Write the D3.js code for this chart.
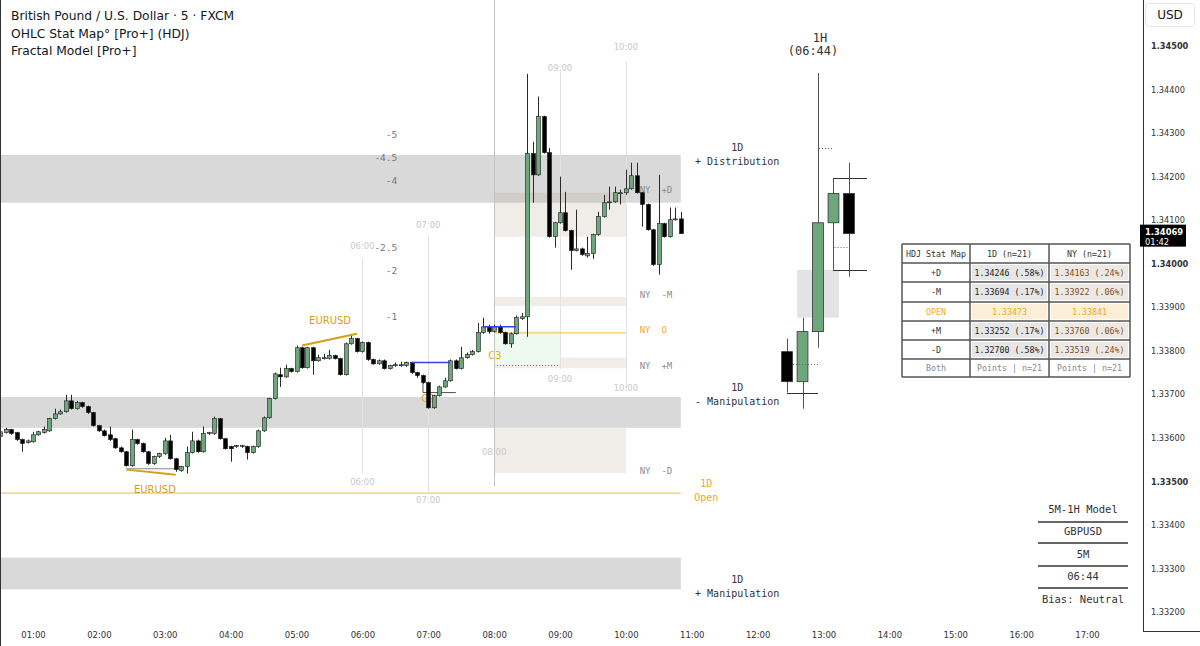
<!DOCTYPE html>
<html><head><meta charset="utf-8">
<script src="https://cdn.jsdelivr.net/npm/d3@7"></script>
<style>body{margin:0;background:#fff;} svg{display:block;}</style>
</head><body><svg id="c" width="1200" height="646"></svg>
<script>
// ---------- DATA ----------
const startHour = 0.5;   // first 5m bar at 00:30
const barMinutes = 5;
const opens = [
1.33603,1.33612,1.33619,1.33612,1.33596,1.33589,1.33591,1.33607,1.33612,1.33616,
1.33644,1.33655,1.33660,1.33685,1.33667,1.33681,1.33672,1.33658,1.33628,1.33616,
1.33607,1.33598,1.33577,1.33568,1.33536,1.33596,1.33587,1.33568,1.33541,1.33557,
1.33564,1.33593,1.33552,1.33525,1.33534,1.33566,1.33593,1.33568,1.33610,1.33610,
1.33644,1.33598,1.33580,1.33580,1.33580,1.33580,1.33566,1.33580,1.33616,1.33646,
1.33690,1.33745,1.33740,1.33759,1.33752,1.33807,1.33761,1.33807,1.33777,1.33782,
1.33782,1.33789,1.33782,1.33745,1.33816,1.33828,1.33798,1.33819,1.33780,1.33770,
1.33777,1.33759,1.33766,1.33766,1.33766,1.33773,1.33750,1.33743,1.33727,1.33669,
1.33697,1.33717,1.33731,1.33777,1.33759,1.33784,1.33791,1.33798,1.33842,1.33855,
1.33844,1.33855,1.33842,1.33816,1.33839,1.33874,1.33878,1.34253,1.34204,1.34338,
1.34255,1.34062,1.34094,1.34117,1.34076,1.34030,1.34034,1.34018,1.34023,1.34067,
1.34108,1.34140,1.34142,1.34161,1.34163,1.34172,1.34202,1.34163,1.34136,1.34078,
1.33998,1.34092,1.34062,1.34101,1.34103];
const highs = [
1.33619,1.33623,1.33621,1.33614,1.33598,1.33596,1.33614,1.33616,1.33626,1.33646,
1.33667,1.33665,1.33699,1.33699,1.33685,1.33683,1.33674,1.33660,1.33630,1.33619,
1.33626,1.33600,1.33580,1.33570,1.33619,1.33598,1.33589,1.33570,1.33559,1.33566,
1.33600,1.33607,1.33554,1.33536,1.33580,1.33614,1.33596,1.33626,1.33614,1.33649,
1.33646,1.33600,1.33582,1.33584,1.33584,1.33582,1.33582,1.33619,1.33649,1.33692,
1.33750,1.33761,1.33768,1.33761,1.33812,1.33809,1.33809,1.33809,1.33791,1.33793,
1.33802,1.33791,1.33784,1.33819,1.33837,1.33830,1.33821,1.33821,1.33782,1.33780,
1.33780,1.33768,1.33773,1.33775,1.33775,1.33775,1.33752,1.33745,1.33729,1.33699,
1.33720,1.33738,1.33780,1.33780,1.33809,1.33796,1.33802,1.33864,1.33876,1.33860,
1.33860,1.33860,1.33844,1.33842,1.33881,1.33887,1.34436,1.34280,1.34384,1.34340,
1.34266,1.34096,1.34200,1.34165,1.34078,1.34124,1.34037,1.34062,1.34069,1.34119,
1.34158,1.34177,1.34177,1.34170,1.34216,1.34232,1.34232,1.34165,1.34138,1.34080,
1.34204,1.34094,1.34129,1.34129,1.34119];
const lows = [
1.33596,1.33610,1.33607,1.33593,1.33568,1.33587,1.33589,1.33605,1.33610,1.33614,
1.33642,1.33653,1.33658,1.33665,1.33665,1.33669,1.33655,1.33626,1.33614,1.33603,
1.33593,1.33575,1.33566,1.33534,1.33534,1.33584,1.33566,1.33538,1.33538,1.33554,
1.33561,1.33550,1.33522,1.33522,1.33518,1.33564,1.33566,1.33566,1.33607,1.33607,
1.33596,1.33573,1.33545,1.33577,1.33577,1.33550,1.33564,1.33577,1.33614,1.33644,
1.33688,1.33717,1.33738,1.33750,1.33750,1.33759,1.33759,1.33745,1.33775,1.33780,
1.33780,1.33780,1.33743,1.33743,1.33814,1.33796,1.33796,1.33777,1.33768,1.33768,
1.33757,1.33757,1.33763,1.33763,1.33763,1.33747,1.33738,1.33724,1.33667,1.33667,
1.33695,1.33715,1.33729,1.33757,1.33757,1.33782,1.33789,1.33796,1.33839,1.33839,
1.33842,1.33839,1.33814,1.33807,1.33837,1.33871,1.33832,1.34140,1.34202,1.34253,
1.34060,1.34037,1.34092,1.34074,1.33986,1.34028,1.34018,1.34014,1.34011,1.34064,
1.34106,1.34124,1.34140,1.34136,1.34158,1.34170,1.34161,1.34085,1.34076,1.33995,
1.33975,1.34060,1.34060,1.34099,1.34069];
const closes = [
1.33614,1.33619,1.33610,1.33596,1.33587,1.33593,1.33607,1.33614,1.33619,1.33644,
1.33655,1.33660,1.33685,1.33667,1.33681,1.33672,1.33658,1.33628,1.33616,1.33605,
1.33596,1.33577,1.33568,1.33536,1.33596,1.33587,1.33568,1.33541,1.33557,1.33564,
1.33593,1.33552,1.33527,1.33534,1.33566,1.33593,1.33568,1.33610,1.33612,1.33644,
1.33598,1.33575,1.33575,1.33582,1.33582,1.33566,1.33580,1.33616,1.33646,1.33690,
1.33747,1.33740,1.33759,1.33752,1.33807,1.33761,1.33807,1.33777,1.33784,1.33784,
1.33789,1.33782,1.33745,1.33816,1.33828,1.33798,1.33819,1.33780,1.33770,1.33777,
1.33759,1.33766,1.33768,1.33768,1.33773,1.33750,1.33743,1.33727,1.33669,1.33697,
1.33717,1.33731,1.33777,1.33759,1.33784,1.33791,1.33798,1.33842,1.33855,1.33844,
1.33855,1.33842,1.33816,1.33839,1.33876,1.33878,1.34253,1.34204,1.34338,1.34255,
1.34062,1.34094,1.34117,1.34076,1.34030,1.34034,1.34021,1.34023,1.34067,1.34108,
1.34140,1.34142,1.34163,1.34163,1.34172,1.34202,1.34163,1.34136,1.34078,1.33998,
1.34092,1.34062,1.34101,1.34103,1.34069];

// 1H candles (06:00 .. 10:00)
const h1Hours = [6,7,8,9,10];
const h1Open  = [1.33798,1.33729,1.33844,1.34094,1.34161];
const h1High  = [1.33828,1.33876,1.34438,1.34197,1.34232];
const h1Low   = [1.33704,1.33667,1.33807,1.33986,1.33970];
const h1Close = [1.33729,1.33844,1.34094,1.34161,1.34069];

const priceTicks = [1.345,1.344,1.343,1.342,1.341,1.340,1.339,1.338,1.337,1.336,1.335,1.334,1.333,1.332];
const majorTicks = [1.345,1.340,1.335];
const hourTicks = [1,2,3,4,5,6,7,8,9,10,11,12,13,14,15,16,17];

// 1D zones [top, bottom]
const dayZones = [[1.34250,1.34140],[1.33694,1.33623],[1.33325,1.33252]];
const dayOpen = 1.33473;
const dayLabels = [
  {l1:"1D", l2:"+ Distribution", p:1.34246},
  {l1:"1D", l2:"- Manipulation", p:1.33694},
  {l1:"1D", l2:"+ Manipulation", p:1.33252}];
// NY zones [top,bottom] between 08:00 and 10:00
const nyZones = [[1.34163,1.34062],[1.33924,1.33903],[1.33784,1.33760],[1.33623,1.33519]];
const nyOpen = 1.33841;
const nyLabels = [["NY +D",1.34163],["NY -M",1.33922],["NY O",1.33841],["NY +M",1.33760],["NY -D",1.33519]];
// standard deviation projections
const sdNames = ["-5","-4.5","-4","-2.5","-2","-1"];
const sdPrices = [1.34294,1.34241,1.34188,1.34034,1.33982,1.33876];
// vertical session markers [hour, top price, bottom price]
const vLines = [[6,1.34012,1.33517],[7,1.34065,1.33476],[8,1.34607,1.33488],[9,1.34447,1.33758],[10,1.34465,1.33712]];
const vLabels = [[10,1.34497],[9,1.34448],[7,1.34087],[6,1.34039],[9,1.33734],[10,1.33713],[8,1.33566],[6,1.33497],[7,1.33456]];
// EURUSD SMT lines [bar index from, price from, bar index to, price to]
const smtLines = [[55,1.33812,65,1.33839],[23,1.33527,32,1.33515]];
const smtText = [[5.51,1.33869],[2.85,1.33481]];
// blue reference lines [bar from, bar to, price]
const blueLines = [[75,82,1.33773],[88,94,1.33855]];
// C3 box
const c3 = {h0:8, h1:9, top:1.33846, bot:1.33768};

// table
const tblHead = ["HDJ Stat Map","1D (n=21)","NY (n=21)"];
const tblRows = ["+D","-M","OPEN","+M","-D"];
const tblDay = ["1.34246 (.58%)","1.33694 (.17%)","1.33473","1.33252 (.17%)","1.32700 (.58%)"];
const tblNY  = ["1.34163 (.24%)","1.33922 (.06%)","1.33841","1.33760 (.06%)","1.33519 (.24%)"];
const tblFoot = ["Both","Points | n=21","Points | n=21"];
const modelBox = ["5M-1H Model","GBPUSD","5M","06:44","Bias: Neutral"];

// ---------- CHART ----------
const svg = d3.select("#c");
const x = d3.scaleLinear().domain([1,17]).range([33,1087]);
const y = d3.scaleLinear().domain([1.332,1.345]).range([612,46]);
const barHour = i => startHour + i*barMinutes/60;
const lastHour = barHour(opens.length-1);
const firstHour = barHour(0);
const SANS = "DejaVu Sans", MONO = "DejaVu Sans Mono";

const g = svg.append("g");

// 1D zones
g.selectAll("rect.dz").data(dayZones).join("rect")
  .attr("x", x(firstHour)-1).attr("width", x(lastHour)-x(firstHour)+1)
  .attr("y", d=>y(d[0])).attr("height", d=>y(d[1])-y(d[0])).attr("fill","#d9d9d9");
// NY zones
g.selectAll("rect.nz").data(nyZones).join("rect")
  .attr("x", x(8)).attr("width", x(10)-x(8))
  .attr("y", d=>y(d[0])).attr("height", d=>y(d[1])-y(d[0]))
  .attr("fill","rgb(180,160,140)").attr("fill-opacity",0.2);
// C3 box
g.append("rect").attr("x",x(c3.h0)).attr("width",x(c3.h1)-x(c3.h0))
  .attr("y",y(c3.top)).attr("height",y(c3.bot)-y(c3.top)).attr("fill","#eefaf0");
g.append("line").attr("x1",x(c3.h0)).attr("x2",x(c3.h1)).attr("y1",Math.round(y(c3.bot))+0.5).attr("y2",Math.round(y(c3.bot))+0.5)
  .attr("stroke","#777").attr("stroke-dasharray","1,2");

// vertical lines
g.selectAll("line.v").data(vLines).join("line")
  .attr("x1",d=>Math.round(x(d[0]))+0.5).attr("x2",d=>Math.round(x(d[0]))+0.5)
  .attr("y1",d=>y(d[1])).attr("y2",d=>y(d[2]))
  .attr("stroke",d=>d[0]===8?"#c4c4c4":"#e2e2e2").attr("stroke-width",1);
g.selectAll("text.vl").data(vLabels).join("text")
  .attr("x",d=>x(d[0])).attr("y",d=>y(d[1])).attr("text-anchor","middle").attr("dominant-baseline","middle")
  .attr("font-family",SANS).attr("font-size",8.5).attr("fill","#c8c8c8").text(d=>String(d[0]).padStart(2,"0")+":00");

// 1D open line and NY open line
g.append("line").attr("x1",x(firstHour)-1).attr("x2",x(lastHour)).attr("y1",y(dayOpen)).attr("y2",y(dayOpen))
  .attr("stroke","#ffc46b").attr("stroke-width",1.2);
g.append("line").attr("x1",x(8)).attr("x2",x(10)).attr("y1",y(nyOpen)).attr("y2",y(nyOpen))
  .attr("stroke","#ffc46b").attr("stroke-width",1.2);

// SD labels
g.selectAll("text.sd").data(sdNames).join("text")
  .attr("x",x(6.53)).attr("y",(d,i)=>y(sdPrices[i])).attr("text-anchor","end").attr("dominant-baseline","middle")
  .attr("font-family",MONO).attr("font-size",9.5).attr("fill","#777").text(d=>d);

// NY labels
g.selectAll("text.ny").data(nyLabels).join("text")
  .attr("x",x(10.21)).attr("y",d=>y(d[1])-2).attr("dominant-baseline","middle")
  .attr("font-family",MONO).attr("font-size",9).attr("fill",d=>d[0]==="NY O"?"#f5a623":"#8a8a8a")
  .text(d=>d[0].replace(" "," \u00a0"));

// C labels
g.append("text").attr("x",x(8)-6).attr("y",y(c3.bot)-6).attr("font-family",SANS).attr("font-size",10).attr("fill","#f5a623").text("C3");
g.append("text").attr("x",x(7)-7).attr("y",y(1.33682)).attr("font-family",SANS).attr("font-size",10).attr("fill","#f5a623").text("C2");
// C2 marker
g.append("path").attr("d",`M${x(6.92)},${y(1.33727)}V${y(1.33704)}H${x(7.42)}`).attr("fill","none").attr("stroke","#555").attr("stroke-width",1);
// gray swing line under lower SMT
g.append("line").attr("x1",x(barHour(23))).attr("x2",x(barHour(32))).attr("y1",y(1.33529)).attr("y2",y(1.33529)).attr("stroke","#888").attr("stroke-width",1);

// 5m candles
const bars = opens.map((o,i)=>({o,h:highs[i],l:lows[i],c:closes[i],t:barHour(i)}));
const gc = svg.append("g");
gc.selectAll("line").data(bars).join("line")
  .attr("x1",d=>Math.round(x(d.t))+0.5).attr("x2",d=>Math.round(x(d.t))+0.5)
  .attr("y1",d=>y(d.h)).attr("y2",d=>y(d.l)).attr("stroke","#2a2a2a").attr("stroke-width",1);
gc.selectAll("rect").data(bars).join("rect")
  .attr("x",d=>Math.round(x(d.t))-1.5).attr("width",4)
  .attr("y",d=>y(Math.max(d.o,d.c))).attr("height",d=>Math.max(1,Math.abs(y(d.o)-y(d.c))))
  .attr("fill",d=>d.c>=d.o?"#6fa77c":"#000").attr("stroke","#1a1a1a").attr("stroke-width",0.6);

// SMT lines
svg.selectAll("line.smt").data(smtLines).join("line")
  .attr("x1",d=>x(barHour(d[0]))).attr("y1",d=>y(d[1])).attr("x2",d=>x(barHour(d[2]))).attr("y2",d=>y(d[3]))
  .attr("stroke","#d4a017").attr("stroke-width",2);
svg.selectAll("text.smt").data(smtText).join("text")
  .attr("x",d=>x(d[0])).attr("y",d=>y(d[1])).attr("text-anchor","middle").attr("dominant-baseline","middle")
  .attr("font-family",SANS).attr("font-size",10).attr("fill","#d4a017").text("EURUSD");
// blue lines
svg.selectAll("line.blue").data(blueLines).join("line")
  .attr("x1",d=>x(barHour(d[0]))).attr("x2",d=>x(barHour(d[1]))).attr("y1",d=>y(d[2])).attr("y2",d=>y(d[2]))
  .attr("stroke","#3344ee").attr("stroke-width",1.5);

// 1D labels
const dl = svg.append("g").attr("font-family",MONO).attr("font-size",10).attr("fill","#333").attr("text-anchor","middle");
dayLabels.forEach(d=>{
  dl.append("text").attr("x",x(11.69)).attr("y",y(d.p)-9).attr("dominant-baseline","middle").text(d.l1);
  dl.append("text").attr("x",x(11.69)).attr("y",y(d.p)+5).attr("dominant-baseline","middle").text(d.l2);
});
dl.append("text").attr("x",x(11.22)).attr("y",y(dayOpen)-9).attr("dominant-baseline","middle").attr("fill","#f5a623").text("1D");
dl.append("text").attr("x",x(11.22)).attr("y",y(dayOpen)+5).attr("dominant-baseline","middle").attr("fill","#f5a623").text("Open");

// ---------- 1H panel ----------
const hx = d3.scaleBand().domain(h1Hours).range([777,859]).padding(0.3);
const hc = h1Hours.map((h,i)=>({h,o:h1Open[i],hi:h1High[i],lo:h1Low[i],c:h1Close[i]}));
const hp = svg.append("g");
const cx = h => hx(h)+hx.bandwidth()/2;
hp.append("rect").attr("x",hx(7)).attr("width",hx(9)+hx.bandwidth()-hx(7))
  .attr("y",y(h1Low[3])).attr("height",y(h1High[1])-y(h1Low[3])).attr("fill","#e3e3e5");
hp.selectAll("line.w").data(hc).join("line")
  .attr("x1",d=>Math.round(cx(d.h))+0.5).attr("x2",d=>Math.round(cx(d.h))+0.5)
  .attr("y1",d=>y(d.hi)).attr("y2",d=>y(d.lo)).attr("stroke","#555").attr("stroke-width",1);
hp.selectAll("rect.b").data(hc).join("rect")
  .attr("x",d=>hx(d.h)).attr("width",hx.bandwidth())
  .attr("y",d=>y(Math.max(d.o,d.c))).attr("height",d=>Math.abs(y(d.o)-y(d.c)))
  .attr("fill",d=>d.c>=d.o?"#6fa77c":"#000").attr("stroke","#333").attr("stroke-width",0.8);
const rl = [[9,867,h1High[3]],[9,867,h1Low[3]],[6,cx(8),h1Low[0]]];
hp.selectAll("line.r").data(rl).join("line")
  .attr("x1",d=>Math.round(cx(d[0]))).attr("x2",d=>d[1]).attr("y1",d=>Math.round(y(d[2]))+0.5).attr("y2",d=>Math.round(y(d[2]))+0.5)
  .attr("stroke","#333").attr("stroke-width",1);
const dots = [[8,1.34266],[9,1.34039],[6.9,1.33770]];
hp.selectAll("line.d").data(dots).join("line")
  .attr("x1",d=>cx(Math.floor(d[0]))+(d[0]%1?6:1)).attr("x2",d=>cx(Math.floor(d[0]))+(d[0]%1?31:16))
  .attr("y1",d=>Math.round(y(d[1]))+0.5).attr("y2",d=>Math.round(y(d[1]))+0.5)
  .attr("stroke","#666").attr("stroke-dasharray","1,2");
hp.append("text").attr("x",cx(8)+2).attr("y",42).attr("text-anchor","middle").attr("font-family",MONO).attr("font-size",12).attr("fill","#333").text("1H");
hp.append("text").attr("x",cx(8)-5).attr("y",55).attr("text-anchor","middle").attr("font-family",MONO).attr("font-size",12).attr("fill","#333").text("(06:44)");

// ---------- table ----------
const TX=[902,970,1049,1130], TY=[244,263,282,302,321,340,359,377];
const tb = svg.append("g").attr("font-family",MONO).attr("font-size",8.3);
const allRows = [tblHead].concat(tblRows.map((r,i)=>[r,tblDay[i],tblNY[i]])).concat([tblFoot]);
allRows.forEach((row,r)=>{
  row.forEach((txt,c)=>{
    const isData = r>0 && r<allRows.length-1;
    const isOpen = isData && tblRows[r-1]==="OPEN";
    let fill="#fff", col="#333";
    if(isData && c===1){fill = isOpen?"#fdefd7":"#e6e6e6"; col="#222";}
    if(isData && c===2){fill = isOpen?"#fdefd7":"#eee8e3"; col="#7a4e2d";}
    if(isOpen) col="#f5a623";
    if(r===allRows.length-1) col="#8a8a8a";
    tb.append("rect").attr("x",TX[c]+2).attr("y",TY[r]+2).attr("width",TX[c+1]-TX[c]-4).attr("height",TY[r+1]-TY[r]-4).attr("fill",fill);
    tb.append("text").attr("x",(TX[c]+TX[c+1])/2).attr("y",(TY[r]+TY[r+1])/2+0.5).attr("text-anchor","middle")
      .attr("dominant-baseline","middle").attr("fill",col).text(txt);
  });
});
tb.selectAll("line.tv").data(TX).join("line").attr("x1",d=>d).attr("x2",d=>d).attr("y1",TY[0]).attr("y2",TY[TY.length-1]).attr("stroke","#555").attr("stroke-width",1.5);
tb.selectAll("line.th").data(TY).join("line").attr("y1",d=>d).attr("y2",d=>d).attr("x1",TX[0]).attr("x2",TX[TX.length-1]).attr("stroke","#555").attr("stroke-width",1.5);

// ---------- model box ----------
const MB = svg.append("g").attr("font-family",MONO).attr("font-size",10.5).attr("fill","#333").attr("text-anchor","middle");
const mbY = [510,532,555,577,600];
modelBox.forEach((t,i)=>MB.append("text").attr("x",1083).attr("y",mbY[i]).attr("dominant-baseline","middle").text(t));
[522,543,566,588].forEach(v=>MB.append("line").attr("x1",1038).attr("x2",1128).attr("y1",v).attr("y2",v).attr("stroke","#333").attr("stroke-width",1.5));

// ---------- axes ----------
const ya = svg.append("g").attr("transform","translate(1143,0)")
  .call(d3.axisRight(y).tickValues(priceTicks).tickSize(0).tickPadding(8).tickFormat(d3.format(".5f")));
ya.select(".domain").remove();
ya.selectAll("text").attr("font-family",SANS).attr("font-size",8.2).attr("fill","#333")
  .attr("font-weight",d=>majorTicks.includes(d)?"bold":"normal");
const xa = svg.append("g").attr("transform","translate(0,628)")
  .call(d3.axisBottom(x).tickValues(hourTicks).tickSize(0).tickPadding(4).tickFormat(h=>String(h).padStart(2,"0")+":00"));
xa.select(".domain").remove();
xa.selectAll("text").attr("font-family",SANS).attr("font-size",8.5).attr("fill","#333");

svg.append("line").attr("x1",1143.5).attr("x2",1143.5).attr("y1",0).attr("y2",631).attr("stroke","#333");
svg.append("line").attr("x1",1143).attr("x2",1200).attr("y1",631.5).attr("y2",631.5).attr("stroke","#333");
svg.append("line").attr("x1",0.5).attr("x2",0.5).attr("y1",0).attr("y2",646).attr("stroke","#333");

// USD box
svg.append("rect").attr("x",1145.5).attr("y",3.5).attr("width",49).attr("height",23).attr("rx",3).attr("fill","#fff").attr("stroke","#e6e6e6");
svg.append("text").attr("x",1170).attr("y",15.5).attr("text-anchor","middle").attr("dominant-baseline","middle")
  .attr("font-family",SANS).attr("font-size",12).attr("fill","#131722").text("USD");
// last price tag
const lp = closes[closes.length-1];
svg.append("rect").attr("x",1140).attr("y",y(lp)-9).attr("width",46).attr("height",22).attr("fill","#000");
svg.append("text").attr("x",1145).attr("y",y(lp)-1).attr("dominant-baseline","middle").attr("font-family",SANS).attr("font-size",8.4).attr("font-weight","bold").attr("fill","#fff").text(d3.format(".5f")(lp));
svg.append("text").attr("x",1145).attr("y",y(lp)+9).attr("dominant-baseline","middle").attr("font-family",SANS).attr("font-size",8.4).attr("fill","#fff").text("01:42");

// legend / title
const tt = svg.append("g").attr("font-family",SANS).attr("font-size",12.3).attr("fill","#131722");
["British Pound / U.S. Dollar · 5 · FXCM","OHLC Stat Map° [Pro+] (HDJ)","Fractal Model [Pro+]"].forEach((t,i)=>
  tt.append("text").attr("x",11).attr("y",20+i*17.5).text(t));
</script></body></html>
